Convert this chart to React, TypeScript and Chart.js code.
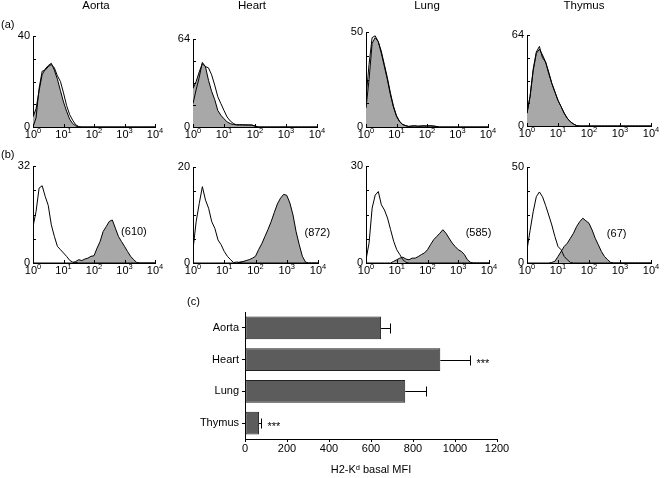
import React, { useEffect, useRef } from 'react';
import { Chart, registerables } from 'chart.js';

Chart.register(...registerables);

const FONT = '"Liberation Sans", Arial, Helvetica, sans-serif';
const HIST_GRAY = '#a8a8a8';
const BAR_FILL = '#5c5c5c';

// ---- flow-cytometry histogram data (fluorescence bins, 10 per decade) ----
const FLUORESCENCE_BINS = [
  1, 1.259, 1.585, 1.995, 2.512, 3.162, 3.981, 5.012, 6.31, 7.943,
  10, 12.59, 15.85, 19.95, 25.12, 31.62, 39.81, 50.12, 63.1, 79.43,
  100, 125.9, 158.5, 199.5, 251.2, 316.2, 398.1, 501.2, 631, 794.3,
  1000, 1259, 1585, 1995, 2512, 3162, 3981, 5012, 6310, 7943, 10000,
];
const DECADES = [1, 10, 100, 1000, 10000];
const DECADE_EXPONENTS = ['0', '1', '2', '3', '4'];
const TISSUE_TITLES = ['Aorta', 'Heart', 'Lung', 'Thymus'];

// row (a)
const A_AORTA_FILLED = [4.5, 8, 16, 23, 25.5, 27, 28, 25, 21, 16, 11, 7, 3.5, 1.5, 0.5];
const A_AORTA_OPEN = [0, 4, 17, 24.5, 25, 26.5, 27.5, 26, 22.5, 20, 15, 9.5, 5.5, 3, 1, 0.2];
const A_HEART_FILLED = [28, 33, 40, 46, 44, 34, 26, 20, 12, 8.5, 6, 3.7, 2.5, 1.8, 1.6, 1.7, 1.5, 1.6, 1.4, 1.5, 0.8];
const A_HEART_OPEN = [17, 27, 36, 47, 44, 43, 38, 30.5, 22, 17, 12, 7.3, 4.4, 2.6, 1.6, 1.5, 1.6, 1.4, 1.5, 1.3, 0.5];
const A_LUNG_FILLED = [10, 25, 44, 47, 45, 40, 33, 26, 18, 11, 6, 3, 1.4, 0.7, 0.3, 0.5, 0.6, 0.4, 0.5, 0.6, 0.5, 0.6, 0.5, 0.3];
const A_LUNG_OPEN = [15, 33, 47, 48, 45, 39, 32, 25, 17, 10.5, 5.5, 2.8, 1.3, 0.7, 0.3, 0.5, 0.6, 0.4, 0.5, 0.6, 0.5, 0.6, 0.5, 0.3];
const A_THYMUS_FILLED = [9, 21, 39, 51, 54, 50, 45, 38, 30, 24, 18, 13.6, 9, 5.4, 3, 1.4, 0.3];
const A_THYMUS_OPEN = [9, 21, 40, 52, 56, 48, 45, 37, 30, 24, 18, 13.6, 9, 5.4, 3, 1.4, 0.3];
const A_YMAX = [40, 64, 50, 64];

// row (b)
const B_AORTA_OPEN = [12, 17, 24.7, 25.5, 22, 19, 12.6, 8.8, 5.5, 4.4, 3.3, 2.2, 0.9, 0.3, 0.2];
const B_AORTA_FILLED = [0, 0, 0, 0, 0, 0, 0, 0, 0, 0, 0, 0, 0, 0, 0.5, 1.1, 0.8, 1.3, 1.6, 2.2, 2.4, 4.9, 7.1, 10.4, 12, 13.7, 14.2, 11.5, 8.8, 7.1, 5.5, 3.8, 2.2, 1.1, 0.2];
const B_HEART_OPEN = [2.8, 8.6, 12.4, 15.9, 13.1, 11.4, 8.6, 7.2, 4.8, 3.8, 2.4, 1.4, 0.7, 0.1, 0.2, 0.1];
const B_HEART_FILLED = [0, 0, 0, 0, 0, 0, 0, 0, 0, 0, 0, 0, 0, 0, 0, 0.2, 0.3, 0.5, 0.7, 1, 1.4, 2.8, 4, 5.5, 7, 8.6, 10.5, 12.3, 13.5, 14.3, 14.1, 12.5, 10, 6.5, 3.8, 1.4, 0.2];
const B_LUNG_OPEN = [1, 6.2, 17, 21, 22.1, 18, 16.4, 13.9, 10.3, 6.7, 4.1, 2.6, 1, 0.2];
const B_LUNG_FILLED = [0, 0, 0, 0, 0, 0, 0, 0, 0, 0.5, 1, 1.5, 1.8, 1.2, 1, 1.5, 1.5, 2, 2.6, 3.1, 4.1, 5.7, 7.2, 8.2, 9.2, 10.3, 9.2, 7.7, 6.2, 5.1, 4.1, 3.6, 2.6, 1, 0.2];
const B_THYMUS_OPEN = [6.9, 17, 26.7, 34.5, 37, 34.5, 30, 25, 19.8, 13.8, 8.6, 6.9, 3.4, 1.7, 0.3];
const B_THYMUS_FILLED = [0, 0, 0, 0, 0, 0, 0, 0, 0.3, 0.9, 3.4, 6, 8.6, 10.3, 12.9, 15.5, 19, 21.5, 23.3, 22, 20.7, 17.2, 12.9, 9.5, 6, 3.4, 1.7, 0.3];
const B_YMAX = [32, 20, 30, 50];
const B_MFI_NOTES = ['(610)', '(872)', '(585)', '(67)'];

// ---- bar chart (c) ----
const TISSUES = ['Aorta', 'Heart', 'Lung', 'Thymus'];
const BASAL_MFI = [648, 930, 763, 67];
const MFI_SEM = [43, 143, 99, 9];
const SIGNIFICANCE = ['', '***', '', '***'];
const MFI_AXIS_MAX = 1200;
const MFI_STEP = 200;

// ---- layout ----
const Y_AXIS_W = 30;
const X_AXIS_H = 16;

type Panel = {
  id: string;
  canvas: { x: number; y: number; w: number; h: number };
  plot: { L: number; T: number; R: number; B: number };
  ymax: number;
  open: number[];
  filled: number[];
  title?: string;
  titleShift?: number;
  note?: { text: string; x: number; y: number };
};

const PANELS: Panel[] = [
  { id: 'a0', canvas: { x: 0, y: 0, w: 170, h: 147 }, plot: { L: 33, T: 36, R: 155, B: 127 }, ymax: A_YMAX[0], open: A_AORTA_OPEN, filled: A_AORTA_FILLED, title: TISSUE_TITLES[0], titleShift: 2 },
  { id: 'a1', canvas: { x: 160, y: 0, w: 172, h: 147 }, plot: { L: 193, T: 39, R: 317, B: 127 }, ymax: A_YMAX[1], open: A_HEART_OPEN, filled: A_HEART_FILLED, title: TISSUE_TITLES[1], titleShift: -3 },
  { id: 'a2', canvas: { x: 333, y: 0, w: 167, h: 147 }, plot: { L: 366, T: 32, R: 488, B: 127 }, ymax: A_YMAX[2], open: A_LUNG_OPEN, filled: A_LUNG_FILLED, title: TISSUE_TITLES[2], titleShift: 0 },
  { id: 'a3', canvas: { x: 494, y: 0, w: 172, h: 147 }, plot: { L: 527, T: 35, R: 651, B: 126 }, ymax: A_YMAX[3], open: A_THYMUS_OPEN, filled: A_THYMUS_FILLED, title: TISSUE_TITLES[3], titleShift: -5 },
  { id: 'b0', canvas: { x: 0, y: 147, w: 170, h: 140 }, plot: { L: 33, T: 166, R: 155, B: 263 }, ymax: B_YMAX[0], open: B_AORTA_OPEN, filled: B_AORTA_FILLED, note: { text: B_MFI_NOTES[0], x: 2040, y: 10.1 } },
  { id: 'b1', canvas: { x: 160, y: 147, w: 172, h: 140 }, plot: { L: 193, T: 167, R: 318, B: 263 }, ymax: B_YMAX[1], open: B_HEART_OPEN, filled: B_HEART_FILLED, note: { text: B_MFI_NOTES[1], x: 9500, y: 6.35 } },
  { id: 'b2', canvas: { x: 333, y: 147, w: 167, h: 140 }, plot: { L: 366, T: 166, R: 489, B: 263 }, ymax: B_YMAX[2], open: B_LUNG_OPEN, filled: B_LUNG_FILLED, note: { text: B_MFI_NOTES[2], x: 4570, y: 9.4 } },
  { id: 'b3', canvas: { x: 494, y: 147, w: 172, h: 140 }, plot: { L: 527, T: 167, R: 651, B: 263 }, ymax: B_YMAX[3], open: B_THYMUS_OPEN, filled: B_THYMUS_FILLED, note: { text: B_MFI_NOTES[3], x: 780, y: 15.1 } },
];

// inward tick marks + "10^n" labels with a real raised exponent
const logAxisDecor = {
  id: 'logAxisDecor',
  afterDraw(chart: any) {
    const { ctx, chartArea: a, scales } = chart;
    ctx.save();
    ctx.strokeStyle = '#000';
    ctx.lineWidth = 1;
    ctx.beginPath();
    for (const t of scales.x.ticks) {
      const px = Math.round(scales.x.getPixelForValue(t.value)) + 0.5;
      ctx.moveTo(px, a.bottom);
      ctx.lineTo(px, a.bottom - 3);
    }
    for (const t of scales.y.ticks) {
      const py = Math.round(scales.y.getPixelForValue(t.value)) + 0.5;
      ctx.moveTo(a.left, py);
      ctx.lineTo(a.left + 3, py);
    }
    ctx.stroke();

    ctx.fillStyle = '#000';
    ctx.textBaseline = 'middle';
    ctx.textAlign = 'left';
    DECADES.forEach((v, i) => {
      const px = scales.x.getPixelForValue(v);
      ctx.font = `11px ${FONT}`;
      const wBase = ctx.measureText('10').width;
      ctx.font = `7.5px ${FONT}`;
      const wExp = ctx.measureText(DECADE_EXPONENTS[i]).width;
      const x0 = px - (wBase + wExp) / 2;
      ctx.font = `11px ${FONT}`;
      ctx.fillText('10', x0, a.bottom + 7.5);
      ctx.font = `7.5px ${FONT}`;
      ctx.fillText(DECADE_EXPONENTS[i], x0 + wBase, a.bottom + 3.5);
    });
    ctx.restore();
  },
};

const panelText = {
  id: 'panelText',
  afterDraw(chart: any, _args: any, opts: any) {
    const { ctx, chartArea: a, scales } = chart;
    ctx.save();
    ctx.fillStyle = '#000';
    ctx.textBaseline = 'middle';
    ctx.textAlign = 'center';
    if (opts.title) {
      ctx.font = `11.5px ${FONT}`;
      ctx.fillText(opts.title, (a.left + a.right) / 2 + (opts.titleShift || 0), opts.titleY);
    }
    if (opts.note) {
      ctx.font = `11px ${FONT}`;
      ctx.fillText(opts.note.text, scales.x.getPixelForValue(opts.note.x), scales.y.getPixelForValue(opts.note.y));
    }
    ctx.restore();
  },
};

const errorBars = {
  id: 'errorBars',
  afterDatasetsDraw(chart: any, _args: any, opts: any) {
    const { ctx, scales } = chart;
    const meta = chart.getDatasetMeta(0);
    const values = chart.data.datasets[0].data;
    ctx.save();
    ctx.strokeStyle = '#000';
    ctx.lineWidth = 1;
    meta.data.forEach((bar: any, i: number) => {
      const v = values[i];
      const e = opts.errors[i];
      const x0 = scales.x.getPixelForValue(v);
      const x1 = Math.round(scales.x.getPixelForValue(v + e)) + 0.5;
      const y = Math.round(bar.y) + 0.5;
      ctx.beginPath();
      ctx.moveTo(x0, y);
      ctx.lineTo(x1, y);
      ctx.moveTo(x1, y - 5);
      ctx.lineTo(x1, y + 5);
      ctx.stroke();
      if (opts.marks[i]) {
        ctx.fillStyle = '#000';
        ctx.font = `11px ${FONT}`;
        ctx.textAlign = 'left';
        ctx.textBaseline = 'middle';
        ctx.fillText(opts.marks[i], x1 + 6, y + 3);
      }
    });
    ctx.restore();
  },
};

function Histogram({ p }: { p: Panel }) {
  const ref = useRef<HTMLCanvasElement>(null);
  useEffect(() => {
    const { canvas: c, plot } = p;
    const tickFont = { size: 11, family: FONT };
    const chart = new Chart(ref.current as HTMLCanvasElement, {
      type: 'line',
      data: {
        datasets: [
          {
            data: FLUORESCENCE_BINS.map((x, i) => ({ x, y: p.open[i] ?? 0 })),
            borderColor: '#000',
            borderWidth: 1,
            pointRadius: 0,
            fill: false,
            tension: 0,
          },
          {
            data: FLUORESCENCE_BINS.map((x, i) => ({ x, y: p.filled[i] ?? 0 })),
            borderColor: '#000',
            borderWidth: 1,
            backgroundColor: HIST_GRAY,
            pointRadius: 0,
            fill: 'origin',
            tension: 0,
          },
        ],
      },
      options: {
        responsive: false,
        animation: false,
        events: [],
        layout: {
          autoPadding: false,
          padding: {
            left: plot.L - c.x - Y_AXIS_W,
            right: c.x + c.w - plot.R,
            top: plot.T - c.y,
            bottom: c.y + c.h - plot.B - X_AXIS_H,
          },
        },
        plugins: {
          legend: { display: false },
          tooltip: { enabled: false },
          panelText: { title: p.title, titleShift: p.titleShift, titleY: 6, note: p.note },
        } as any,
        scales: {
          x: {
            type: 'logarithmic',
            min: 1,
            max: 10000,
            afterBuildTicks: (s: any) => {
              s.ticks = DECADES.map((v) => ({ value: v }));
            },
            ticks: {
              display: false,
              autoSkip: false,
            },
            grid: { display: false, drawTicks: false },
            border: { display: true, color: '#000', width: 1 },
            afterFit: (s: any) => {
              s.height = X_AXIS_H;
            },
          },
          y: {
            type: 'linear',
            min: 0,
            max: p.ymax,
            ticks: {
              stepSize: p.ymax / 4,
              callback: (v: any) => (v === 0 || v === p.ymax ? String(v) : ''),
              font: tickFont,
              color: '#000',
              padding: 3,
              autoSkip: false,
            },
            grid: { display: false, drawTicks: false },
            border: { display: true, color: '#000', width: 1 },
            afterFit: (s: any) => {
              s.width = Y_AXIS_W;
            },
          },
        } as any,
      },
      plugins: [logAxisDecor, panelText],
    });
    return () => chart.destroy();
  }, [p]);
  return (
    <canvas
      ref={ref}
      width={p.canvas.w}
      height={p.canvas.h}
      style={{ position: 'absolute', left: p.canvas.x, top: p.canvas.y, width: p.canvas.w, height: p.canvas.h }}
    />
  );
}

const BAR_CANVAS = { x: 170, y: 290, w: 350, h: 188 };
const BAR_PLOT = { L: 245, T: 312, R: 497, B: 439 };
const BAR_Y_W = 60;
const BAR_X_H = 39;

function BarPanel() {
  const ref = useRef<HTMLCanvasElement>(null);
  useEffect(() => {
    const font = { size: 11, family: FONT };
    const c = BAR_CANVAS;
    const chart = new Chart(ref.current as HTMLCanvasElement, {
      type: 'bar',
      data: {
        labels: TISSUES,
        datasets: [
          {
            data: BASAL_MFI,
            backgroundColor: BAR_FILL,
            borderColor: '#222',
            borderWidth: 1,
            borderSkipped: false,
            barPercentage: 0.71,
            categoryPercentage: 1,
          },
        ],
      },
      options: {
        indexAxis: 'y',
        responsive: false,
        animation: false,
        events: [],
        layout: {
          autoPadding: false,
          padding: {
            left: BAR_PLOT.L - c.x - BAR_Y_W,
            right: c.x + c.w - BAR_PLOT.R,
            top: BAR_PLOT.T - c.y,
            bottom: c.y + c.h - BAR_PLOT.B - BAR_X_H,
          },
        },
        plugins: {
          legend: { display: false },
          tooltip: { enabled: false },
          errorBars: { errors: MFI_SEM, marks: SIGNIFICANCE },
        } as any,
        scales: {
          x: {
            type: 'linear',
            min: 0,
            max: MFI_AXIS_MAX,
            ticks: {
              stepSize: MFI_STEP,
              font,
              color: '#000',
              padding: 0,
              maxRotation: 0,
              callback: (v: any) => String(v),
            },
            grid: { display: true, drawOnChartArea: false, drawTicks: true, tickLength: 3, color: '#000' },
            border: { display: true, color: '#000', width: 1 },
            title: { display: true, text: 'H2-Kᵈ basal MFI', font, color: '#000', padding: { top: 0, bottom: 1 } },
            afterFit: (s: any) => {
              s.height = BAR_X_H;
            },
          },
          y: {
            type: 'category',
            offset: true,
            ticks: { font, color: '#000', padding: 3 },
            grid: { display: true, drawOnChartArea: false, tickLength: 3, offset: false, color: '#000' },
            border: { display: true, color: '#000', width: 1 },
            afterFit: (s: any) => {
              s.width = BAR_Y_W;
            },
          },
        } as any,
      },
      plugins: [errorBars],
    });
    return () => chart.destroy();
  }, []);
  return (
    <canvas
      ref={ref}
      width={BAR_CANVAS.w}
      height={BAR_CANVAS.h}
      style={{ position: 'absolute', left: BAR_CANVAS.x, top: BAR_CANVAS.y, width: BAR_CANVAS.w, height: BAR_CANVAS.h }}
    />
  );
}

const labelStyle = (left: number, top: number): React.CSSProperties => ({
  position: 'absolute',
  left,
  top,
  font: `11px ${FONT}`,
  lineHeight: '13px',
  color: '#000',
  whiteSpace: 'nowrap',
});

export default function App() {
  return (
    <div style={{ position: 'absolute', left: 0, top: 0, width: 666, height: 478, background: '#fff', overflow: 'hidden' }}>
      {PANELS.map((p) => (
        <Histogram key={p.id} p={p} />
      ))}
      <BarPanel />
      <span style={labelStyle(1, 18)}>(a)</span>
      <span style={labelStyle(1, 148)}>(b)</span>
      <span style={labelStyle(187, 295)}>(c)</span>
    </div>
  );
}
